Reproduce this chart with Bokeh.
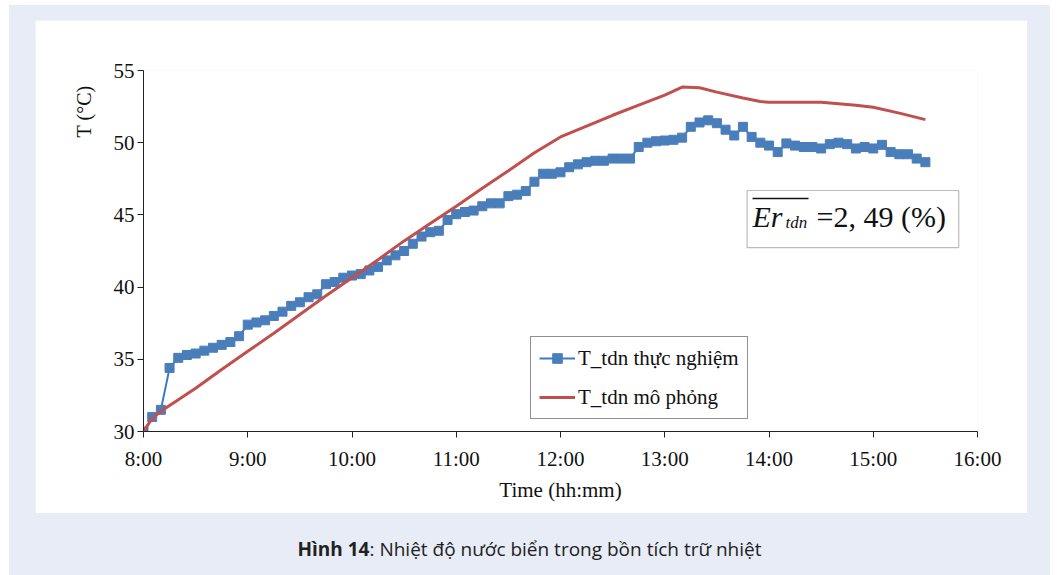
from bokeh.plotting import figure
from bokeh.models import Label, BoxAnnotation, Legend, LegendItem, FixedTicker, Div, Range1d, Title
from bokeh.layouts import column
from bokeh.embed import file_html
from bokeh.resources import INLINE

# ---------------- data ----------------
# measured series: one sample every 5 minutes from 8:00 to 15:30
blue_minutes = list(range(0, 455, 5))
blue_temp = [
    30.0, 31.0, 31.5, 34.4, 35.1, 35.3, 35.4, 35.6, 35.8, 36.0,
    36.2, 36.6, 37.4, 37.55, 37.7, 38.0, 38.3, 38.7, 38.95, 39.3,
    39.5, 40.2, 40.35, 40.65, 40.8, 40.9, 41.15, 41.4, 41.85, 42.2,
    42.5, 43.0, 43.5, 43.8, 43.9, 44.65, 45.05, 45.2, 45.3, 45.6,
    45.8, 45.8, 46.3, 46.4, 46.65, 47.3, 47.85, 47.85, 47.95, 48.3,
    48.5, 48.65, 48.75, 48.75, 48.9, 48.9, 48.9, 49.7, 50.0, 50.1,
    50.15, 50.2, 50.35, 51.1, 51.4, 51.55, 51.35, 50.9, 50.5, 51.1,
    50.4, 50.0, 49.8, 49.35, 49.95, 49.8, 49.7, 49.7, 49.6, 49.9,
    50.0, 49.9, 49.6, 49.7, 49.6, 49.85, 49.35, 49.2, 49.2, 48.9,
    48.65,
]
# simulated series
red_minutes = [0, 5, 10, 20, 30, 45, 60, 75, 90, 105, 120, 135, 150, 165, 180,
               195, 210, 225, 240, 255, 270, 285, 300, 310, 320, 330, 345, 355,
               360, 375, 390, 400, 410, 420, 435, 450]
red_temp = [30.0, 30.9, 31.4, 32.2, 33.0, 34.3, 35.55, 36.8, 38.1, 39.4, 40.65,
            41.9, 43.2, 44.4, 45.6, 46.85, 48.05, 49.3, 50.4, 51.15, 51.9, 52.6,
            53.3, 53.85, 53.8, 53.5, 53.1, 52.85, 52.8, 52.8, 52.8, 52.7, 52.6,
            52.45, 52.05, 51.6]

x_tick_hours = [8, 9, 10, 11, 12, 13, 14, 15, 16]
x_tick_labels = ["8:00", "9:00", "10:00", "11:00", "12:00", "13:00", "14:00", "15:00", "16:00"]
y_ticks = [30, 35, 40, 45, 50, 55]

legend_labels = ["T_tdn thực nghiệm", "T_tdn mô phỏng"]
x_title = "Time (hh:mm)"
y_title = "T (°C)"
caption_bold = "Hình 14"
caption_rest = ": Nhiệt độ nước biển trong bồn tích trữ nhiệt"

blue_x = [8 + m / 60 for m in blue_minutes]
red_x = [8 + m / 60 for m in red_minutes]

SERIF = "Liberation Serif"
BLUE_LINE = "#3a7cc4"
BLUE_MARK = "#4a7ebb"
RED = "#c0504d"
INK = "#111111"

# ---------------- figure ----------------
p = figure(width=992, height=493, x_range=Range1d(8, 16), y_range=Range1d(30, 55),
           output_backend="svg", toolbar_location=None,
           min_border_left=108, min_border_right=50, min_border_top=50, min_border_bottom=82,
           background_fill_color="white", border_fill_color="white",
           outline_line_color=None, margin=(15, 0, 0, 26))

p.xgrid.visible = False
p.ygrid.visible = False

for ax in (p.xaxis[0], p.yaxis[0]):
    ax.axis_line_color = "#222222"
    ax.axis_line_width = 1
    ax.major_tick_line_color = "#222222"
    ax.major_tick_out = 6
    ax.major_tick_in = 0
    ax.minor_tick_line_color = None
    ax.major_label_text_font = SERIF
    ax.major_label_text_font_size = "21px"
    ax.major_label_text_color = INK

p.xaxis.ticker = FixedTicker(ticks=x_tick_hours)
p.xaxis.major_label_overrides = {h: l for h, l in zip(x_tick_hours, x_tick_labels)}
p.xaxis.major_label_standoff = 9
p.xaxis.axis_label = x_title
p.xaxis.axis_label_text_font = SERIF
p.xaxis.axis_label_text_font_size = "21px"
p.xaxis.axis_label_text_font_style = "normal"
p.xaxis.axis_label_text_color = INK
p.xaxis.axis_label_standoff = 4

p.yaxis.ticker = FixedTicker(ticks=y_ticks)
p.yaxis.major_label_standoff = 3

# y title near the top of the axis, as in the original
p.add_layout(Title(text=y_title, align="right", text_font=SERIF, text_font_size="20px",
                   text_font_style="normal", text_color=INK, offset=15, standoff=32), "left")

# ---------------- series ----------------
r_bl = p.line(blue_x, blue_temp, line_color=BLUE_LINE, line_width=2)
r_bs = p.scatter(blue_x, blue_temp, marker="square", size=9, fill_color=BLUE_MARK,
                 line_color=BLUE_MARK)
r_red = p.line(red_x, red_temp, line_color=RED, line_width=3)

legend = Legend(items=[LegendItem(label=legend_labels[0], renderers=[r_bl, r_bs]),
                       LegendItem(label=legend_labels[1], renderers=[r_red])],
                location=(387, 12), border_line_color="#222222", border_line_width=1,
                background_fill_color="white", background_fill_alpha=1,
                label_text_font=SERIF, label_text_font_size="21px", label_text_color=INK,
                glyph_width=36, glyph_height=24, label_height=26, label_standoff=3,
                padding=8, spacing=13, margin=0)
p.add_layout(legend)

# ---------------- error box ----------------
p.add_layout(BoxAnnotation(left=13.79, right=15.82, bottom=42.74, top=46.69,
                           fill_alpha=0, line_color="#222222", line_width=1.2))
p.add_layout(Label(x=13.842, y=44.87, text="Er", text_font=SERIF, text_font_style="italic",
                   text_font_size="30px", text_baseline="alphabetic", text_color=INK))
p.add_layout(Label(x=14.158, y=44.47, text="tdn", text_font=SERIF, text_font_style="italic",
                   text_font_size="17px", text_baseline="alphabetic", text_color=INK))
p.add_layout(Label(x=14.456, y=44.87, text="=2, 49 (%)", text_font=SERIF,
                   text_font_size="30px", text_baseline="alphabetic", text_color=INK))
p.segment(x0=[13.842], y0=[46.14], x1=[14.379], y1=[46.14], line_color=INK,
          line_width=1.5, level="overlay")

# ---------------- caption ----------------
cap = Div(text=f"<b>{caption_bold}</b>{caption_rest}", width=1041, height=32,
          margin=(23, 0, 0, 0),
          styles={"text-align": "center", "font-family": "Open Sans", "font-size": "19px",
                  "color": "#222222", "width": "1041px"})

layout = column(p, cap, width=1041, height=570, margin=(5, 0, 0, 9),
                styles={"background-color": "#e7ecf6"})

open("out.html", "w").write(file_html(layout, INLINE))
